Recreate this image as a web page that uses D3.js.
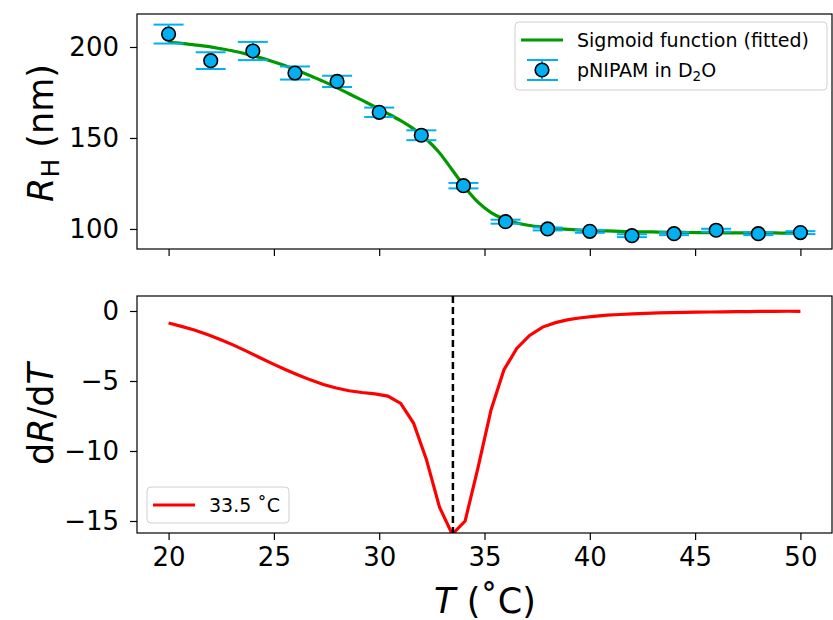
<!DOCTYPE html>
<html>
<head>
<meta charset="utf-8">
<script src="https://cdn.jsdelivr.net/npm/d3@7"></script>
<style>
  body { margin: 0; background: #fff; }
  text { font-family: "DejaVu Sans", sans-serif; fill: #000; }
</style>
</head>
<body>
<svg width="833" height="620"></svg>
<script>
// measured hydrodynamic radius
const tempsMeas = [20, 22, 24, 26, 28, 30, 32, 34, 36, 38, 40, 42, 44, 46, 48, 50];
const radius = [207.1, 192.5, 197.8, 185.7, 181.1, 164.1, 151.5, 123.8, 104.0, 100.0, 98.7, 96.3, 97.4, 99.3, 97.4, 98.0];
const radiusErr = [5.2, 4.6, 5.0, 3.6, 3.1, 2.6, 2.7, 1.5, 1.1, 0.8, 0.8, 0.8, 0.8, 0.8, 0.8, 0.8];

// fitted curve + derivative (same T grid)
const tempsFit = [20.00, 20.61, 21.22, 21.84, 22.45, 23.06, 23.67, 24.29, 24.90, 25.51,
  26.12, 26.73, 27.35, 27.96, 28.57, 29.18, 29.80, 30.41, 31.02, 31.63,
  32.24, 32.86, 33.47, 34.08, 34.69, 35.31, 35.92, 36.53, 37.14, 37.76,
  38.37, 38.98, 39.59, 40.20, 40.82, 41.43, 42.04, 42.65, 43.27, 43.88,
  44.49, 45.10, 45.71, 46.33, 46.94, 47.55, 48.16, 48.78, 49.39, 50.00];
const sigmoidFit = [202.6, 202.0, 201.2, 200.3, 199.1, 197.8, 196.2, 194.3, 192.2, 189.8,
  187.1, 184.2, 181.1, 177.8, 174.3, 170.8, 167.1, 163.4, 159.5, 155.0,
  149.3, 141.9, 132.4, 122.8, 114.7, 109.0, 105.5, 103.3, 101.9, 101.0,
  100.3, 99.8, 99.4, 99.1, 98.9, 98.7, 98.5, 98.4, 98.3, 98.2,
  98.1, 98.0, 98.0, 97.9, 97.9, 97.8, 97.8, 97.8, 97.7, 97.7];
const dRdT = [-0.86, -1.10, -1.36, -1.68, -2.03, -2.42, -2.85, -3.30, -3.74, -4.16,
  -4.55, -4.92, -5.25, -5.50, -5.70, -5.82, -5.92, -6.08, -6.60, -8.00,
  -10.6, -14.0, -15.95, -15.0, -11.2, -7.07, -4.21, -2.67, -1.75, -1.15,
  -0.83, -0.62, -0.48, -0.38, -0.30, -0.25, -0.20, -0.17, -0.14, -0.12,
  -0.10, -0.08, -0.07, -0.06, -0.05, -0.04, -0.03, -0.03, -0.02, -0.02];
const transitionT = 33.5;

const xTicks = [20, 25, 30, 35, 40, 45, 50];
const topTicks = [100, 150, 200];
const bottomTicks = [0, -5, -10, -15];

const svg = d3.select('svg');
const L = 137, R = 832;
const top1 = 14, bot1 = 249, top2 = 296, bot2 = 533;
const blue = '#00b0f0';
const tickLen = 7;

const x = d3.scaleLinear().domain([18.5, 51.5]).range([L, R]);
const y1 = d3.scaleLinear().domain([88.99, 218.13]).range([bot1, top1]);
const y2 = d3.scaleLinear().domain([-15.857, 1.071]).range([bot2, top2]);

svg.append('defs').append('clipPath').attr('id', 'clip2')
  .append('rect').attr('x', L).attr('y', top2).attr('width', R - L).attr('height', bot2 - top2);

// ---- top panel ----
const g1 = svg.append('g');
const line1 = d3.line().x((d, i) => x(tempsFit[i])).y(d => y1(d)).curve(d3.curveMonotoneX);
g1.append('path').datum(sigmoidFit).attr('d', line1)
  .attr('fill', 'none').attr('stroke', '#009a00').attr('stroke-width', 3.2);

const pts = tempsMeas.map((t, i) => ({t, r: radius[i], e: radiusErr[i]}));
const eb = g1.selectAll('.eb').data(pts).enter().append('g');
eb.append('line').attr('x1', d => x(d.t)).attr('x2', d => x(d.t))
  .attr('y1', d => y1(d.r - d.e)).attr('y2', d => y1(d.r + d.e))
  .attr('stroke', blue).attr('stroke-width', 2);
[-1, 1].forEach(s => {
  eb.append('line').attr('x1', d => x(d.t) - 15).attr('x2', d => x(d.t) + 15)
    .attr('y1', d => y1(d.r + s * d.e)).attr('y2', d => y1(d.r + s * d.e))
    .attr('stroke', blue).attr('stroke-width', 2);
});
eb.append('circle').attr('cx', d => x(d.t)).attr('cy', d => y1(d.r)).attr('r', 6.8)
  .attr('fill', blue).attr('stroke', '#000').attr('stroke-width', 1.6);

g1.append('g').attr('transform', `translate(0,${bot1})`)
  .call(d3.axisBottom(x).tickValues(xTicks).tickSize(tickLen).tickFormat(''));
g1.append('g').attr('transform', `translate(${L},0)`)
  .call(d3.axisLeft(y1).tickValues(topTicks).tickSize(tickLen).tickPadding(11));
g1.append('rect').attr('x', L).attr('y', top1).attr('width', R - L).attr('height', bot1 - top1)
  .attr('fill', 'none').attr('stroke', '#000').attr('stroke-width', 1.2);

// legend top
const lg1 = g1.append('g');
lg1.append('rect').attr('x', 515).attr('y', 22).attr('width', 312).attr('height', 68).attr('rx', 4)
  .attr('fill', 'rgba(255,255,255,0.8)').attr('stroke', '#d0d0d0').attr('stroke-width', 1);
lg1.append('line').attr('x1', 521).attr('x2', 563).attr('y1', 40).attr('y2', 40)
  .attr('stroke', '#009a00').attr('stroke-width', 3.2);
lg1.append('text').attr('x', 577).attr('y', 47).attr('font-size', 19).text('Sigmoid function (fitted)');
[60, 80].forEach(yy => lg1.append('line').attr('x1', 527).attr('x2', 558).attr('y1', yy).attr('y2', yy)
  .attr('stroke', blue).attr('stroke-width', 2));
lg1.append('line').attr('x1', 542).attr('x2', 542).attr('y1', 60).attr('y2', 80).attr('stroke', blue).attr('stroke-width', 2);
lg1.append('circle').attr('cx', 542).attr('cy', 70).attr('r', 6.8)
  .attr('fill', blue).attr('stroke', '#000').attr('stroke-width', 1.6);
const lt = lg1.append('text').attr('x', 577).attr('y', 77).attr('font-size', 19);
lt.append('tspan').text('pNIPAM in D');
lt.append('tspan').attr('font-size', 13.5).attr('dy', 4).text('2');
lt.append('tspan').attr('dy', -4).text('O');

// ---- bottom panel ----
const g2 = svg.append('g');
const line2 = d3.line().x((d, i) => x(tempsFit[i])).y(d => y2(d));
g2.append('path').datum(dRdT).attr('d', line2).attr('clip-path', 'url(#clip2)')
  .attr('fill', 'none').attr('stroke', 'red').attr('stroke-width', 3.2);
g2.append('line').attr('x1', x(transitionT)).attr('x2', x(transitionT))
  .attr('y1', top2).attr('y2', bot2)
  .attr('stroke', '#000').attr('stroke-width', 2.5).attr('stroke-dasharray', '7,4');

g2.append('g').attr('transform', `translate(0,${bot2})`)
  .call(d3.axisBottom(x).tickValues(xTicks).tickSize(tickLen).tickPadding(8));
g2.append('g').attr('transform', `translate(${L},0)`)
  .call(d3.axisLeft(y2).tickValues(bottomTicks).tickSize(tickLen).tickPadding(11)
    .tickFormat(d => d < 0 ? '\u2212' + Math.abs(d) : d));
g2.append('rect').attr('x', L).attr('y', top2).attr('width', R - L).attr('height', bot2 - top2)
  .attr('fill', 'none').attr('stroke', '#000').attr('stroke-width', 1.2);

// legend bottom
const lg2 = g2.append('g');
lg2.append('rect').attr('x', 147).attr('y', 487).attr('width', 142).attr('height', 36).attr('rx', 4)
  .attr('fill', 'rgba(255,255,255,0.8)').attr('stroke', '#d0d0d0').attr('stroke-width', 1);
lg2.append('line').attr('x1', 153).attr('x2', 195).attr('y1', 505).attr('y2', 505)
  .attr('stroke', 'red').attr('stroke-width', 3.2);
lg2.append('text').attr('x', 209).attr('y', 512).attr('font-size', 19).text('33.5 \u02daC');

// tick styles
svg.selectAll('.tick text').attr('font-size', 26).attr('font-family', '"DejaVu Sans", sans-serif').attr('fill', '#000');
svg.selectAll('.tick line').attr('stroke', '#000').attr('stroke-width', 1.2);
svg.selectAll('.domain').remove();

// axis labels
const yl1 = svg.append('text').attr('transform', 'translate(53,133) rotate(-90)')
  .attr('text-anchor', 'middle').attr('font-size', 35);
yl1.append('tspan').attr('font-style', 'italic').text('R');
yl1.append('tspan').attr('font-size', 25).attr('dy', 6).text('H');
yl1.append('tspan').attr('dy', -6).text(' (nm)');

const yl2 = svg.append('text').attr('transform', 'translate(53,414) rotate(-90)')
  .attr('text-anchor', 'middle').attr('font-size', 35);
yl2.append('tspan').text('d');
yl2.append('tspan').attr('font-style', 'italic').text('R');
yl2.append('tspan').text('/d');
yl2.append('tspan').attr('font-style', 'italic').text('T');

const xl = svg.append('text').attr('x', 485).attr('y', 613)
  .attr('text-anchor', 'middle').attr('font-size', 35);
xl.append('tspan').attr('font-style', 'italic').text('T');
xl.append('tspan').text(' (\u02daC)');
</script>
</body>
</html>
